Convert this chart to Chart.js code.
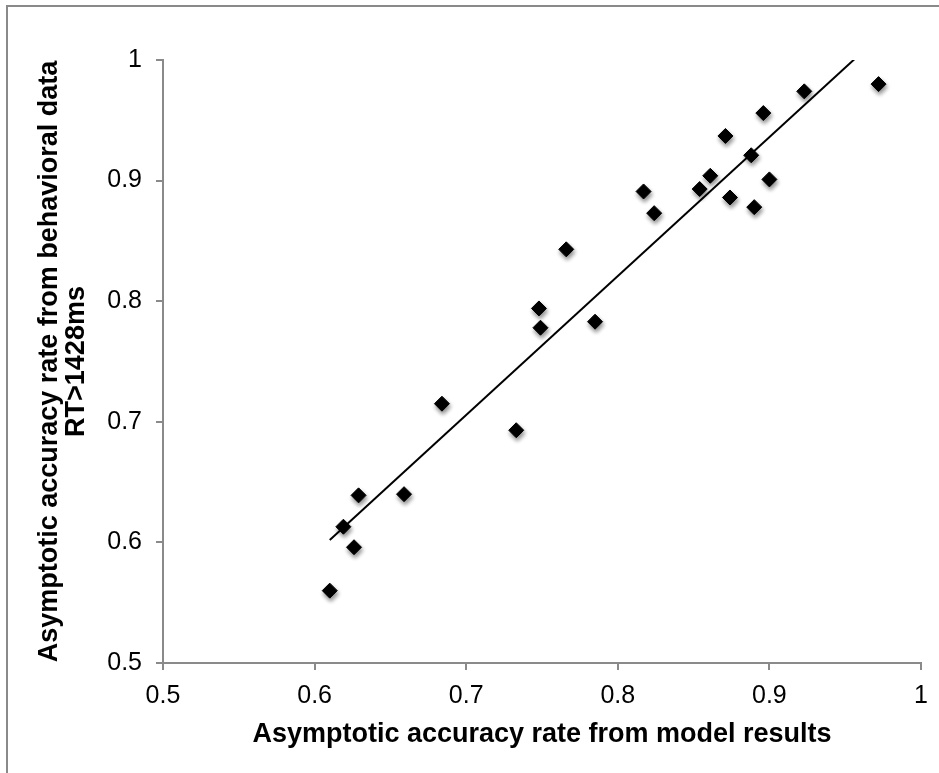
<!DOCTYPE html>
<html>
<head>
<meta charset="utf-8">
<script src="https://cdn.jsdelivr.net/npm/chart.js@4.4.1/dist/chart.umd.min.js"></script>
<style>
  body { margin: 0; background: #fff; }
  #frame { position: absolute; left: 6px; top: 5px; right: 0; bottom: 0; border-top: 2px solid #8a8a8a; border-left: 2px solid #8a8a8a; }
  #myChart { position: absolute; left: 0; top: 0; }
</style>
</head>
<body>
<div id="frame"></div>
<canvas id="myChart" width="939" height="773"></canvas>
<script>
// asymptotic accuracy: model (x) vs behavioural RT>1428ms (y)
var modelAcc = [0.610, 0.619, 0.626, 0.629, 0.659, 0.684, 0.733, 0.748, 0.749, 0.766, 0.785,
                0.817, 0.824, 0.854, 0.861, 0.871, 0.874, 0.888, 0.890, 0.896, 0.900, 0.923, 0.972]
var behavAcc = [0.560, 0.613, 0.596, 0.639, 0.640, 0.715, 0.693, 0.794, 0.778, 0.843, 0.783,
                0.891, 0.873, 0.893, 0.904, 0.937, 0.886, 0.921, 0.878, 0.956, 0.901, 0.974, 0.980]

// linear trendline end points
var trendX = [0.610, 0.972]
var trendY = [0.602, 1.019]

var xTicks = [0.5, 0.6, 0.7, 0.8, 0.9, 1]
var yTicks = [0.5, 0.6, 0.7, 0.8, 0.9, 1]

var points = []
for (var i = 0; i < modelAcc.length; i++) {
    points.push({ x: modelAcc[i], y: behavAcc[i] })
}
var trend = []
for (var j = 0; j < trendX.length; j++) {
    trend.push({ x: trendX[j], y: trendY[j] })
}

var axisGrey = "#8a8a8a"
var fontFam = "'Liberation Sans', Arial, sans-serif"

var shadow = {
    id: "shadow",
    beforeDatasetDraw: function (chart, args) {
        if (args.index !== 0) return
        var ctx = chart.ctx
        ctx.save()
        ctx.shadowColor = "rgba(0,0,0,0.45)"
        ctx.shadowBlur = 4
        ctx.shadowOffsetX = 1
        ctx.shadowOffsetY = 3
    },
    afterDatasetDraw: function (chart, args) {
        if (args.index !== 0) return
        chart.ctx.restore()
    }
}

var myCharts = document.getElementById("myChart").getContext("2d")
var chart = new Chart(myCharts, {
    type: "scatter",
    data: {
        datasets: [
            {
                label: "data",
                data: points,
                pointStyle: "rectRot",
                pointRadius: 7.5,
                pointHoverRadius: 7.5,
                backgroundColor: "#000",
                borderColor: "#000",
                borderWidth: 1
            },
            {
                label: "trend",
                data: trend,
                showLine: true,
                borderColor: "#000",
                borderWidth: 2,
                pointRadius: 0,
                pointHoverRadius: 0
            }
        ]
    },
    options: {
        responsive: false,
        animation: false,
        layout: { padding: { left: 30, right: 18, top: 60, bottom: 22 } },
        plugins: {
            legend: { display: false },
            tooltip: { enabled: false }
        },
        scales: {
            x: {
                type: "linear",
                min: 0.5,
                max: 1,
                afterBuildTicks: function (scale) {
                    scale.ticks = xTicks.map(function (v) { return { value: v } })
                },
                afterFit: function (scale) { scale.height = 88 },
                grid: { display: true, drawOnChartArea: false, drawTicks: true, tickLength: 7, color: axisGrey, lineWidth: 2 },
                border: { display: true, color: axisGrey, width: 2 },
                ticks: {
                    color: "#000",
                    padding: 11,
                    maxRotation: 0,
                    font: { family: fontFam, size: 25 },
                    callback: function (v) { return String(Math.round(v * 10) / 10) }
                },
                title: {
                    display: true,
                    text: "Asymptotic accuracy rate from model results",
                    color: "#000",
                    padding: 0,
                    font: { family: fontFam, size: 27, weight: "bold" }
                }
            },
            y: {
                type: "linear",
                min: 0.5,
                max: 1,
                afterBuildTicks: function (scale) {
                    scale.ticks = yTicks.map(function (v) { return { value: v } })
                },
                afterFit: function (scale) { scale.width = 133 },
                grid: { display: true, drawOnChartArea: false, drawTicks: true, tickLength: 7, color: axisGrey, lineWidth: 2 },
                border: { display: true, color: axisGrey, width: 2 },
                ticks: {
                    color: "#000",
                    padding: 14,
                    font: { family: fontFam, size: 25 },
                    callback: function (v) { return String(Math.round(v * 10) / 10) }
                },
                title: {
                    display: true,
                    text: ["Asymptotic accuracy rate from behavioral data", "RT>1428ms"],
                    color: "#000",
                    padding: { top: 6, bottom: 0 },
                    font: { family: fontFam, size: 27, weight: "bold", lineHeight: 1.0 }
                }
            }
        }
    },
    plugins: [shadow]
})
</script>
</body>
</html>
